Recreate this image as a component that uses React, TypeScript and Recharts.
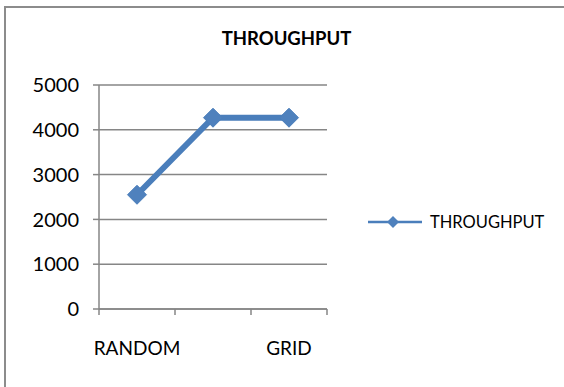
import React from "react";
import { LineChart, Line, XAxis, YAxis, CartesianGrid, Legend } from "recharts";

const categories = ["RANDOM", "", "GRID"];
const throughput = [2550, 4270, 4270];
const yTicks = [0, 1000, 2000, 3000, 4000, 5000];

// numeric x so the tick marks can sit between categories, like Excel does
const data = categories.map((name, i) => ({ name, x: i + 0.5, throughput: throughput[i] }));
const bounds = categories.map((_, i) => i).concat(categories.length);
const centers = data.map((d) => d.x);

const AXIS = "#868686";
const BLUE = "#4a7ebb";
const MARKER = "#4f81bd";
const FONT = "Lato, 'Noto Sans', sans-serif";

function Diamond(props: any) {
  const { cx, cy, index } = props;
  if (cx == null || cy == null) return null;
  const r = 9.5;
  return (
    <path
      key={`d-${index}`}
      d={`M${cx},${cy - r} L${cx + r},${cy} L${cx},${cy + r} L${cx - r},${cy} Z`}
      fill={MARKER}
      stroke={BLUE}
      strokeWidth={1}
    />
  );
}

function LegendContent({ payload }: any) {
  return (
    <div>
      {(payload || []).map((entry: any) => (
        <div key={entry.value} style={{ display: "flex", alignItems: "center" }}>
          <svg width={54} height={14}>
            <line x1={0} y1={7} x2={54} y2={7} stroke={BLUE} strokeWidth={2.5} />
            <path d="M25,1 L31,7 L25,13 L19,7 Z" fill={MARKER} />
          </svg>
          <span style={{ marginLeft: 8, fontFamily: FONT, fontSize: 16.5, color: "#000", lineHeight: "20px" }}>
            {entry.value}
          </span>
        </div>
      ))}
    </div>
  );
}

export default function App() {
  return (
    <div
      style={{
        position: "absolute",
        left: 0,
        top: 0,
        width: 564,
        height: 387,
        overflow: "hidden",
        background: "#fff",
      }}
    >
      <div
        style={{
          position: "absolute",
          left: 4,
          top: 6,
          width: 558,
          height: 379,
          borderTop: "2px solid #8c8c8c",
          borderLeft: "2px solid #8c8c8c",
        }}
      />
      <div
        style={{
          position: "absolute",
          left: 0,
          top: 29,
          width: 573,
          textAlign: "center",
          fontFamily: FONT,
          fontWeight: 700,
          fontSize: 18.5,
          lineHeight: 1,
          color: "#000",
        }}
      >
        THROUGHPUT
      </div>
      <div style={{ position: "absolute", left: 0, top: 0 }}>
        <LineChart width={564} height={387} data={data} margin={{ top: 85, right: 237, bottom: 0, left: 0 }}>
          <CartesianGrid xAxisId="a" vertical={false} stroke={AXIS} strokeWidth={1.5} />
          <XAxis
            xAxisId="a"
            dataKey="x"
            type="number"
            domain={[0, 3]}
            ticks={bounds}
            interval={0}
            tickFormatter={() => ""}
            tickSize={6}
            height={10}
            axisLine={{ stroke: AXIS, strokeWidth: 1.5 }}
            tickLine={{ stroke: AXIS, strokeWidth: 1.5 }}
          />
          <XAxis
            xAxisId="b"
            dataKey="x"
            type="number"
            domain={[0, 3]}
            ticks={centers}
            tickFormatter={(v: number) => categories[Math.floor(v)]}
            axisLine={false}
            tickLine={false}
            tickSize={0}
            tickMargin={23}
            height={68}
            interval={0}
            tick={{ fill: "#000", fontSize: 19, fontFamily: FONT }}
          />
          <YAxis
            domain={[0, 5000]}
            ticks={yTicks}
            width={99}
            tickSize={6}
            tickMargin={14}
            interval={0}
            axisLine={{ stroke: AXIS, strokeWidth: 1.5 }}
            tickLine={{ stroke: AXIS, strokeWidth: 1.5 }}
            tick={{ fill: "#000", fontSize: 20, fontFamily: FONT }}
          />
          <Legend
            layout="horizontal"
            verticalAlign="middle"
            align="center"
            content={<LegendContent />}
            wrapperStyle={{ left: 368, top: 212, width: "auto" }}
          />
          <Line
            xAxisId="a"
            type="linear"
            dataKey="throughput"
            name="THROUGHPUT"
            stroke={BLUE}
            strokeWidth={6}
            dot={<Diamond />}
            activeDot={false}
            isAnimationActive={false}
          />
        </LineChart>
      </div>
    </div>
  );
}
